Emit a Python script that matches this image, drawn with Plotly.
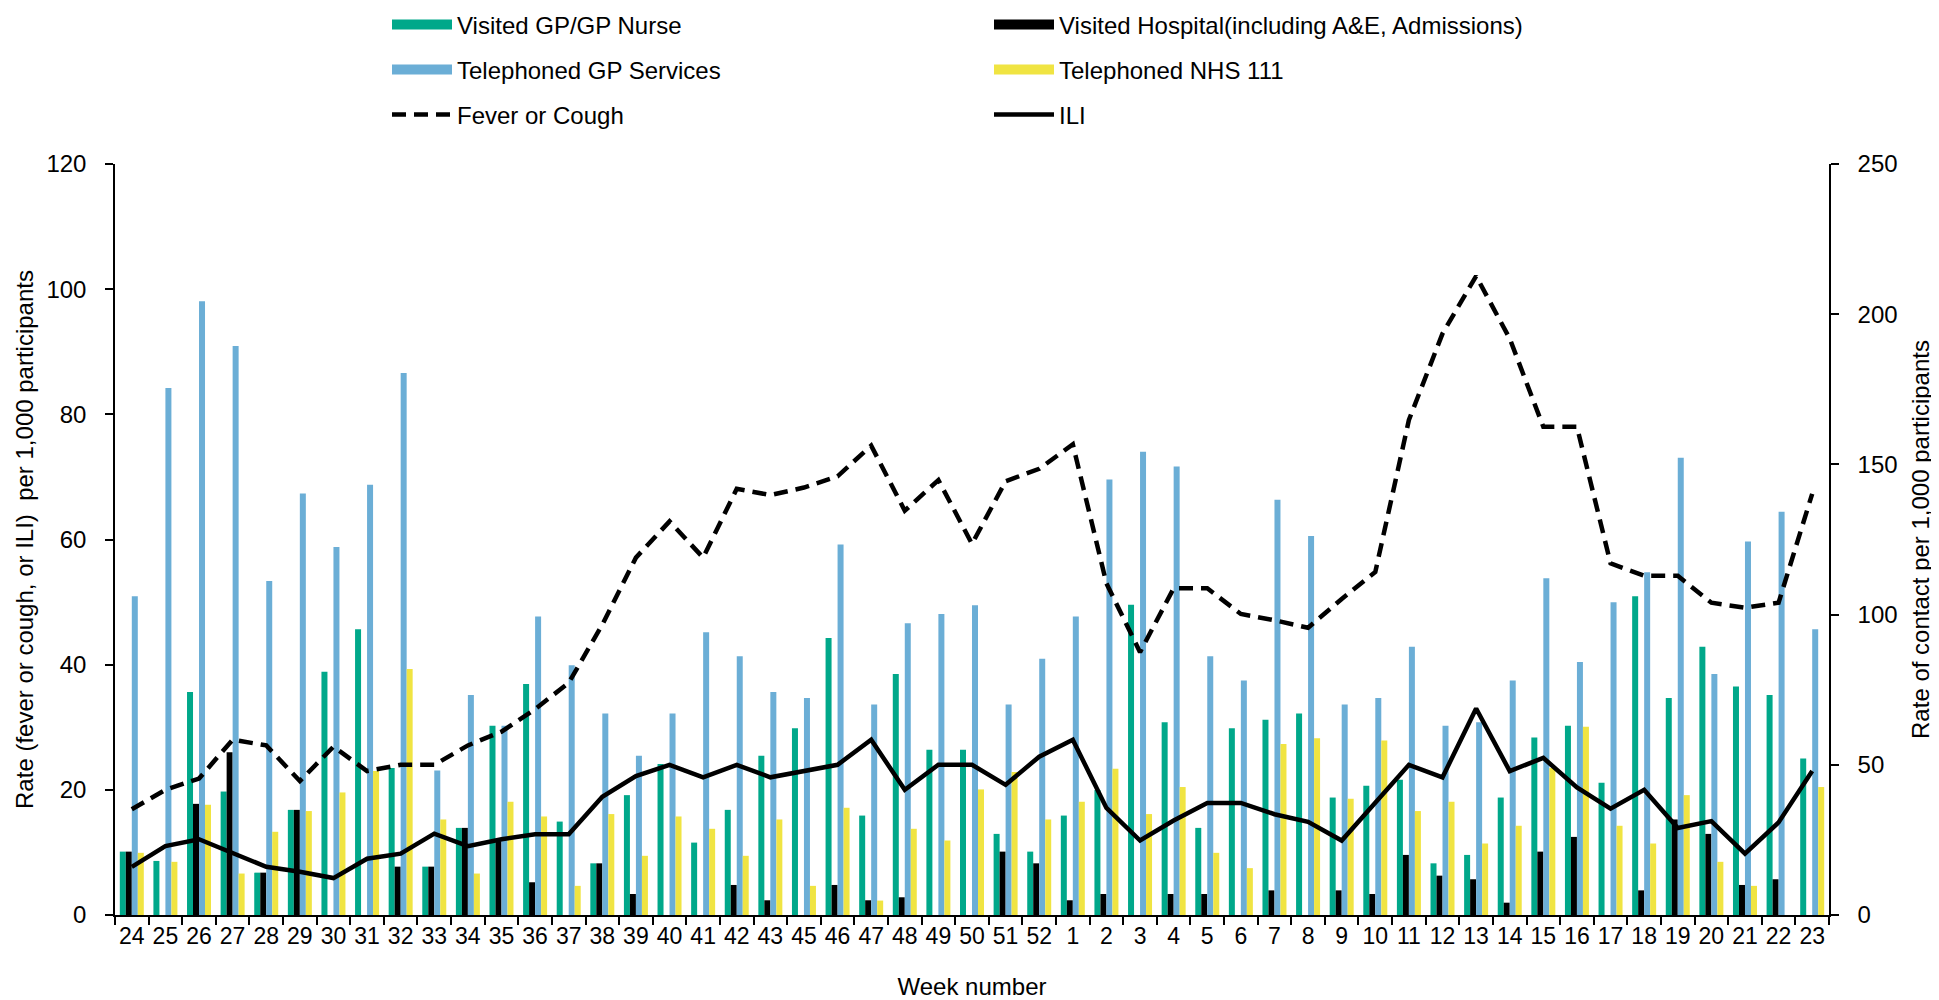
import plotly.graph_objects as go

weeks = ["24","25","26","27","28","29","30","31","32","33","34","35","36","37","38","39","40","41","42","43",
         "45","46","47","48","49","50","51","52","1","2","3","4","5","6","7","8","9","10","11","12","13",
         "14","15","16","17","18","19","20","21","22","23"]

visited_gp = [21.1,18.0,74.2,41.1,14.1,35.0,81.0,95.1,48.9,16.1,29.0,63.0,76.9,31.1,17.2,39.9,50.3,24.1,35.0,53.0,
              62.2,92.2,33.1,80.2,55.0,55.0,27.0,21.1,33.1,41.6,103.3,64.2,29.0,62.2,65.0,67.1,39.1,43.0,45.0,17.2,20.0,
              39.1,59.1,63.0,44.0,106.1,72.2,89.3,76.1,73.2,52.1]
visited_hosp = [21.1,0,37.0,54.2,14.1,35.0,0,0,16.1,16.1,29.0,24.6,10.9,0,17.2,7.0,0,0,10.0,4.9,
                0,10.0,4.9,5.9,0,0,21.1,17.2,4.9,7.0,0,7.0,7.0,0,8.2,0,8.2,7.0,20.0,13.1,11.9,
                4.1,21.1,26.0,0,8.2,31.8,27.0,10.0,11.9,0]
tel_gp = [106.1,175.4,204.3,189.4,111.2,140.3,122.5,143.2,180.4,48.1,73.2,63.0,99.4,83.1,67.1,53.0,67.1,94.1,86.1,74.2,
          72.2,123.3,70.1,97.1,100.2,103.1,70.1,85.3,99.4,145.0,154.2,149.3,86.1,78.1,138.2,126.2,70.1,72.2,89.3,63.0,64.2,
          78.1,112.1,84.2,104.1,114.1,152.2,80.2,124.3,134.2,95.1]
tel_111 = [20.7,17.7,36.7,13.8,27.7,34.6,40.8,47.9,81.9,31.8,13.8,37.7,32.8,9.7,33.6,19.7,32.8,28.7,19.7,31.8,
           9.7,35.7,4.8,28.7,24.8,41.8,47.6,31.8,37.7,48.7,33.6,42.6,20.7,15.6,56.9,58.8,38.7,58.1,34.6,37.7,23.8,
           29.7,48.9,62.7,29.7,23.8,39.9,17.7,9.7,0,42.6]
fever_cough = [16.9,20.0,21.8,28.0,27.1,21.4,26.9,23.0,24.0,24.0,27.1,29.3,32.9,37.1,46.4,57.1,62.9,57.1,68.1,67.1,
               68.3,70.1,75.0,64.6,69.5,59.3,69.3,71.3,75.2,53.0,42.0,52.2,52.2,48.1,47.1,45.9,50.5,54.8,79.1,92.9,102.1,
               92.1,78.0,78.0,56.2,54.2,54.2,49.9,49.1,49.9,67.3]
ili = [7.7,11.0,12.1,9.9,7.7,6.9,5.9,9.0,9.8,13.0,11.0,12.1,12.9,12.9,18.9,22.2,24.0,22.0,24.0,22.0,
       23.0,24.0,28.0,20.0,24.0,24.0,20.8,25.3,28.0,17.1,11.9,15.1,17.9,17.9,16.1,14.9,11.9,17.9,24.0,22.0,33.0,
       23.0,25.1,20.4,17.0,20.0,13.9,15.0,9.8,14.8,23.0]

FONT = "Arial, Liberation Sans, sans-serif"
OFF = 8  # page body margin
W, H = 1939 - OFF, 1000 - OFF
L, R, T, B = 107, 110, 156, 85
ph = H - T - B
pw = W - L - R

fig = go.Figure()
bar_specs = [("Visited GP/GP Nurse", visited_gp, "#00A88A", "legend"),
             ("Visited Hospital(including A&E, Admissions)", visited_hosp, "#000000", "legend"),
             ("Telephoned GP Services", tel_gp, "#6BAED6", "legend2"),
             ("Telephoned NHS 111", tel_111, "#F0E442", "legend2")]
for name, vals, col, lg in bar_specs:
    fig.add_trace(go.Bar(x=weeks, y=vals, name=name, marker=dict(color=col, line=dict(width=0)),
                         yaxis="y", showlegend=False))
# legend swatches (wide rectangles like the original)
for name, vals, col, lg in bar_specs:
    fig.add_trace(go.Scatter(x=[None], y=[None], name=name, mode="lines",
                             line=dict(color=col, width=15), yaxis="y", legend=lg))

fig.add_trace(go.Scatter(x=weeks, y=fever_cough, name="Fever or Cough", mode="lines",
                         line=dict(color="black", width=4.5, dash="14px,8px"), yaxis="y2", legend="legend3"))
fig.add_trace(go.Scatter(x=weeks, y=ili, name="ILI", mode="lines",
                         line=dict(color="black", width=4.5), yaxis="y2", legend="legend3"))

def ly(yc):
    return 1 + (T - (yc - OFF)) / ph

leg_common = dict(orientation="h", xanchor="left", yanchor="middle", x=(379 - L) / pw,
                  entrywidth=527, entrywidthmode="pixels", itemwidth=60,
                  font=dict(family=FONT, size=24, color="black"), bgcolor="rgba(0,0,0,0)",
                  itemclick=False, itemdoubleclick=False, tracegroupgap=0)

fig.update_layout(
    width=W, height=H,
    margin=dict(l=L, r=R, t=T, b=B, autoexpand=False),
    paper_bgcolor="white", plot_bgcolor="white",
    barmode="group", bargap=0.286, bargroupgap=0,
    font=dict(family=FONT, size=24, color="black"),
    showlegend=True,
    legend=dict(y=ly(25), **leg_common),
    legend2=dict(y=ly(70), **leg_common),
    legend3=dict(y=ly(115), **leg_common),
    xaxis=dict(type="category", categoryorder="array", categoryarray=weeks,
               showline=True, linecolor="black", linewidth=1.5, tickangle=0,
               ticks="outside", ticklen=8, tickcolor="black", tickwidth=1.5, tickson="boundaries",
               tickfont=dict(size=23), showgrid=False, zeroline=False, automargin=False,
               title=dict(text="Week number", font=dict(size=24), standoff=31)),
    yaxis=dict(side="right", range=[0, 250], dtick=50, showline=True, linecolor="black", linewidth=1.5,
               ticks="outside", ticklen=8, tickcolor="black", tickwidth=1.5, showgrid=False, zeroline=False,
               tickfont=dict(size=24), ticklabelstandoff=14, automargin=False,
               title=dict(text="Rate of contact per 1,000 participants", font=dict(size=24), standoff=16)),
    yaxis2=dict(side="left", overlaying="y", range=[0, 120], dtick=20, showline=True, linecolor="black",
                linewidth=1.5, ticks="outside", ticklen=8, tickcolor="black", tickwidth=1.5,
                showgrid=False, zeroline=False, tickfont=dict(size=24), ticklabelstandoff=14, automargin=False,
                title=dict(text="Rate (fever or cough, or ILI)  per 1,000 participants", font=dict(size=24),
                           standoff=6)),
)

fig.write_html("out.html")
